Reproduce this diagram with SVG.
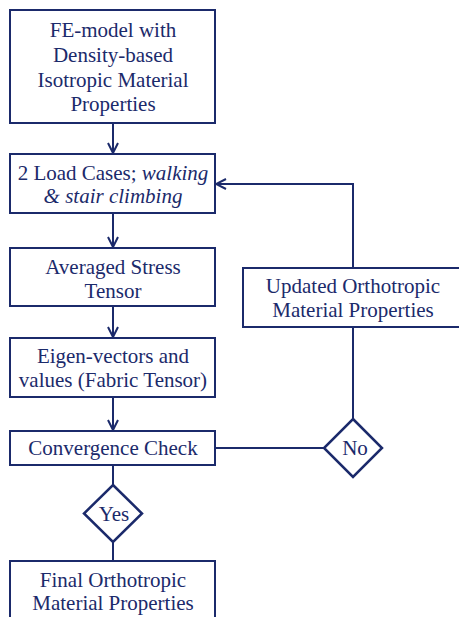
<svg xmlns="http://www.w3.org/2000/svg" width="459" height="617" viewBox="0 0 459 617">
<style>
.box{fill:#fff;stroke:#1b2a6b;stroke-width:2}
.dia{fill:#fff;stroke:#1b2a6b;stroke-width:2.5}
.c{fill:none;stroke:#1b2a6b;stroke-width:2}
.t{font-family:'Liberation Serif','Times New Roman',serif;font-size:21px;fill:#1b2a6b;text-anchor:middle}
</style>
<defs>
<marker id="ah" viewBox="0 0 12 12" refX="11" refY="6" markerWidth="12" markerHeight="12" markerUnits="userSpaceOnUse" orient="auto">
<path d="M1,1 L11,6 L1,11" fill="none" stroke="#1b2a6b" stroke-width="2"/>
</marker>
</defs>
<rect width="459" height="617" fill="#fff"/>
<g id="connectors">
<line class="c" x1="113" y1="123" x2="113" y2="153" marker-end="url(#ah)"/>
<line class="c" x1="113" y1="213" x2="113" y2="247" marker-end="url(#ah)"/>
<line class="c" x1="113" y1="306" x2="113" y2="337" marker-end="url(#ah)"/>
<line class="c" x1="113" y1="397" x2="113" y2="430" marker-end="url(#ah)"/>
<line class="c" x1="113" y1="465" x2="113" y2="485"/>
<line class="c" x1="113" y1="542" x2="113" y2="561"/>
<line class="c" x1="215" y1="448" x2="324" y2="448"/>
<line class="c" x1="353" y1="419" x2="353" y2="327"/>
<polyline class="c" points="353,268 353,184 216,184" marker-end="url(#ah)"/>
</g>
<g id="n1"><rect class="box" x="10" y="10" width="205" height="113"/>
<text class="t" x="113" y="37">FE-model with</text>
<text class="t" x="113" y="62">Density-based</text>
<text class="t" x="113" y="87">Isotropic Material</text>
<text class="t" x="113" y="111">Properties</text></g>
<g id="n2"><rect class="box" x="10" y="154" width="205" height="59"/>
<text class="t" x="113" y="180">2 Load Cases; <tspan font-style="italic">walking</tspan></text>
<text class="t" x="113" y="203" font-style="italic">&amp; stair climbing</text></g>
<g id="n3"><rect class="box" x="10" y="248" width="205" height="58"/>
<text class="t" x="113" y="274">Averaged Stress</text>
<text class="t" x="113" y="298">Tensor</text></g>
<g id="n4"><rect class="box" x="10" y="338" width="205" height="59"/>
<text class="t" x="113" y="363">Eigen-vectors and</text>
<text class="t" x="113" y="387">values (Fabric Tensor)</text></g>
<g id="n5"><rect class="box" x="10" y="431" width="205" height="34"/>
<text class="t" x="113" y="455">Convergence Check</text></g>
<g id="yes"><polygon class="dia" points="113,485 142,513.5 113,542 84,513.5"/>
<text class="t" x="114" y="521">Yes</text></g>
<g id="n6"><rect class="box" x="10" y="561" width="205" height="70"/>
<text class="t" x="113" y="587">Final Orthotropic</text>
<text class="t" x="113" y="610">Material Properties</text></g>
<g id="no"><polygon class="dia" points="353,419 382,448 353,477 324,448"/>
<text class="t" x="355" y="455">No</text></g>
<g id="n7"><rect class="box" x="243" y="268" width="230" height="59"/>
<text class="t" x="353" y="293">Updated Orthotropic</text>
<text class="t" x="353" y="317">Material Properties</text></g>
</svg>
